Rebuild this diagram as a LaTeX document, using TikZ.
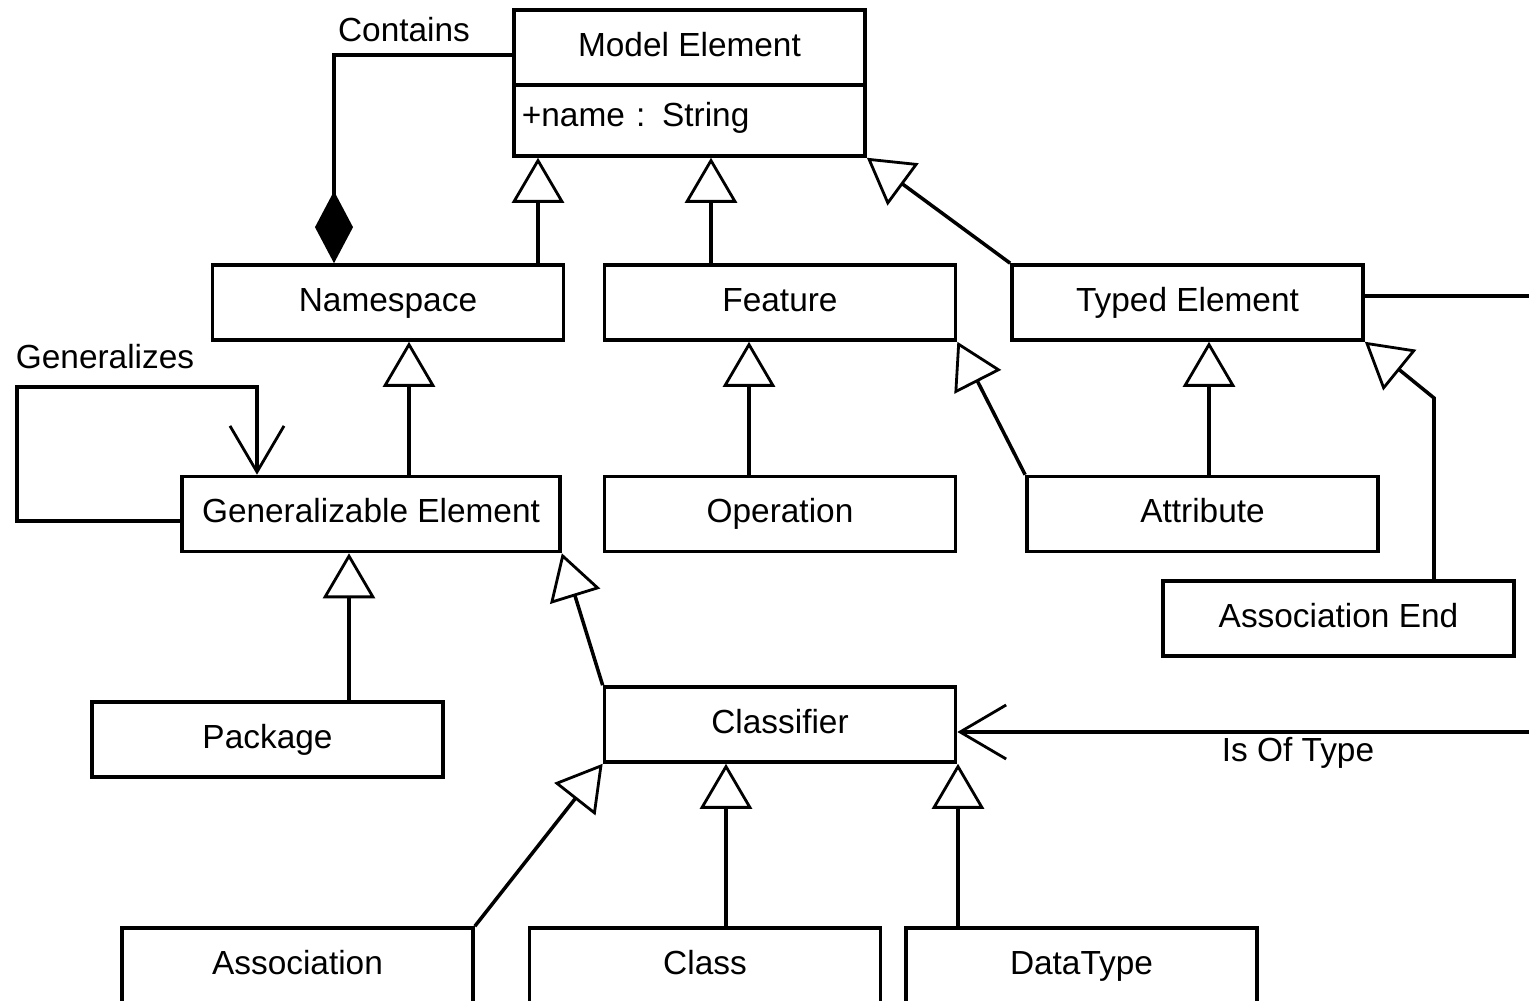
\documentclass[tikz,border=0pt]{standalone}
\usepackage{fontspec}
\setmainfont{Liberation Sans}
\usetikzlibrary{arrows.meta}
\tikzset{classbox/.style={draw, line width=1pt, minimum width=3.51cm,
   minimum height=0.75cm, inner sep=0pt, text height=0.24cm, text depth=0.06cm,
   font=\fontsize{9.5}{11}\selectfont},
 inherit/.style={draw, line width=1pt,
   -{Triangle[open, fill=white, length=0.45cm, width=0.52cm, line width=0.8pt]}},
 navig/.style={draw, line width=1pt,
   -{Straight Barb[length=0.46cm, width=0.54cm, line width=0.8pt]}},
 compose/.style={draw, line width=1pt, {Diamond[length=0.72cm, width=0.38cm]}-},
 lbl/.style={font=\fontsize{9.5}{11}\selectfont, inner sep=1pt},
 }

\begin{document}
\begin{tikzpicture}[x=0.01cm, y=-0.01cm]
        \useasboundingbox (0,0) rectangle (1529,1001);
        \clip (0,0) rectangle (1529,1001);
        % classes
        \node[classbox] (model) at (689.5,47.5) {Model Element};
        \node[classbox, minimum height=0.71cm, text width=3.35cm, align=left,
            inner xsep=0.08cm, text depth=0.12cm] (modelattr) at (689.5,120.5) {+name : String};
        \node[classbox] (namespace) at (388,302.5) {Namespace};
        \node[classbox] (feature) at (780,302.5) {Feature};
        \node[classbox] (typed) at (1187.5,302.5) {Typed Element};
        \node[classbox, minimum width=3.78cm] (genelem) at (371,514) {Generalizable Element};
        \node[classbox] (operation) at (780,514) {Operation};
        \node[classbox] (attribute) at (1202.5,514) {Attribute};
        \node[classbox] (assocend) at (1338.5,618.5) {Association End};
        \node[classbox] (package) at (267.5,739.5) {Package};
        \node[classbox] (classifier) at (780,724.5) {Classifier};
        \node[classbox] (association) at (297.5,965.5) {Association};
        \node[classbox] (class) at (705,965.5) {Class};
        \node[classbox] (datatype) at (1081.5,965.5) {DataType};
        % associations
        \draw[compose] (namespace.north -| 334,0) -- (334,55) -- (model.west |- 0,55);
        \node[lbl] (containslbl) at (404,30) {Contains};
        \draw[navig] (genelem.west |- 0,521) -- (17,521) -- (17,387) -- (257,387)
            -- (genelem.north -| 257,0);
        \node[lbl] (genlbl) at (105,357) {Generalizes};
        \draw[navig] (typed.east |- 0,296) -- (1600,296) -- (1600,732)
            -- node[lbl, pos=0.47, below] (typelbl) {Is Of Type} (classifier.east |- 0,732);
        % generalizations
        \draw[inherit] (namespace.north -| 538,0) -- (modelattr.south -| 538,0);
        \draw[inherit] (feature.north -| 711,0) -- (modelattr.south -| 711,0);
        \draw[inherit] (typed.north west) -- (modelattr.south east);
        \draw[inherit] (genelem.north -| 409,0) -- (namespace.south -| 409,0);
        \draw[inherit] (operation.north -| 749,0) -- (feature.south -| 749,0);
        \draw[inherit] (attribute.north west) -- (feature.south east);
        \draw[inherit] (attribute.north -| 1209,0) -- (typed.south -| 1209,0);
        \draw[inherit] (assocend.north -| 1434,0) -- (1434,398) -- (typed.south east);
        \draw[inherit] (package.north -| 349,0) -- (genelem.south -| 349,0);
        \draw[inherit] (classifier.north west) -- (genelem.south east);
        \draw[inherit] (association.north east) -- (classifier.south west);
        \draw[inherit] (class.north -| 726,0) -- (classifier.south -| 726,0);
        \draw[inherit] (datatype.north -| 958,0) -- (classifier.south -| 958,0);
    \end{tikzpicture}
\end{document}
